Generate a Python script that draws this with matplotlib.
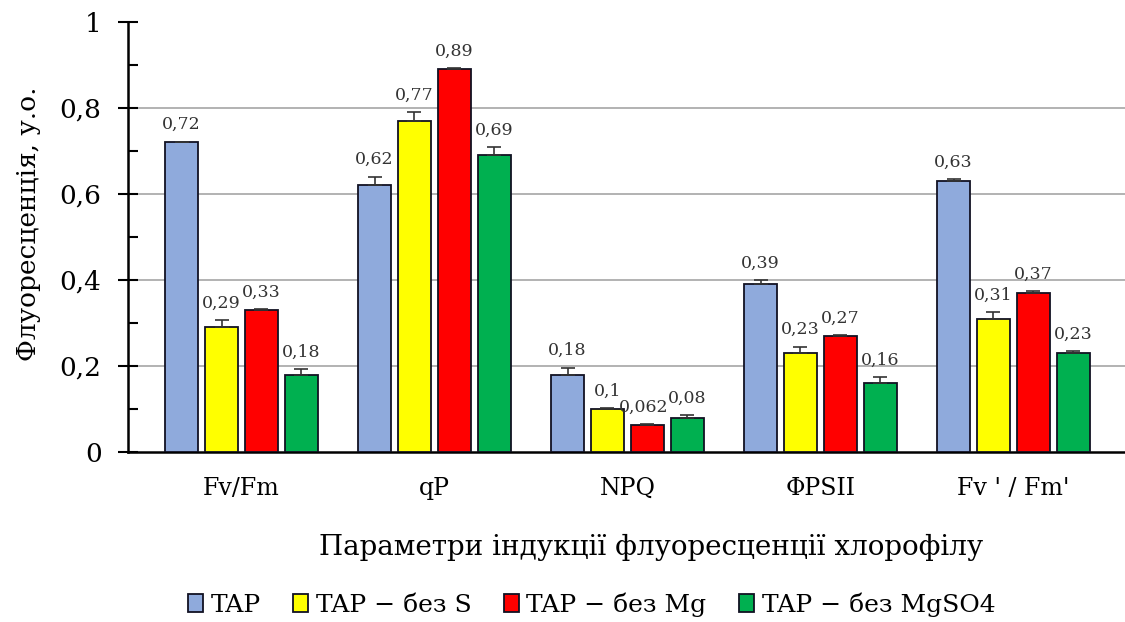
import matplotlib
matplotlib.use("Agg")
import matplotlib.pyplot as plt
import numpy as np
from matplotlib.ticker import MultipleLocator, FuncFormatter

categories = ["Fv/Fm", "qP", "NPQ", "ΦPSII", "Fv ' / Fm'"]
series_names = ["TAP", "TAP − без S", "TAP − без Mg", "TAP − без MgSO4"]
tap = [0.72, 0.62, 0.18, 0.39, 0.63]
no_s = [0.29, 0.77, 0.10, 0.23, 0.31]
no_mg = [0.33, 0.89, 0.062, 0.27, 0.37]
no_mgso4 = [0.18, 0.69, 0.08, 0.16, 0.23]
err_tap = [0.002, 0.02, 0.016, 0.01, 0.005]
err_no_s = [0.017, 0.02, 0.002, 0.015, 0.015]
err_no_mg = [0.002, 0.003, 0.002, 0.002, 0.004]
err_no_mgso4 = [0.012, 0.019, 0.005, 0.014, 0.004]
labels_tap = ["0,72", "0,62", "0,18", "0,39", "0,63"]
labels_no_s = ["0,29", "0,77", "0,1", "0,23", "0,31"]
labels_no_mg = ["0,33", "0,89", "0,062", "0,27", "0,37"]
labels_no_mgso4 = ["0,18", "0,69", "0,08", "0,16", "0,23"]

colors = ["#8FAADC", "#FFFF00", "#FF0000", "#00B050"]

plt.rcParams['font.family'] = ['DejaVu Serif', 'Liberation Serif']

fig = plt.figure(figsize=(11.25, 6.22), dpi=100)
ax = fig.add_axes([128/1125, (622-452)/622, 1 - 128/1125, 430/622])

x = np.arange(len(categories))
step = 0.207
width = 0.171
series = [tap, no_s, no_mg, no_mgso4]
errs = [err_tap, err_no_s, err_no_mg, err_no_mgso4]
labs = [labels_tap, labels_no_s, labels_no_mg, labels_no_mgso4]
for i, (vals, er, lb, c, nm) in enumerate(zip(series, errs, labs, colors, series_names)):
    pos = x + (i - 1.5) * step
    ax.bar(pos, vals, width, color=c, edgecolor="#111122", linewidth=1.3, label=nm, zorder=3)
    ax.errorbar(pos, vals, yerr=[np.zeros(len(vals)), er], fmt="none", ecolor="#333333",
                elinewidth=1.2, capsize=5, capthick=1.2, zorder=4)
    for p, v, e, t in zip(pos, vals, er, lb):
        dx = 0
        if t == "0,062":
            dx = -0.02
        ax.text(p + dx, v + e + 0.02, t, ha="center", va="bottom", fontsize=12.5, color="#333333", zorder=5)

ax.set_ylim(0, 1)
ax.set_xlim(-0.588, 4.578)
ax.yaxis.set_major_locator(MultipleLocator(0.2))
ax.yaxis.set_minor_locator(MultipleLocator(0.1))
ax.yaxis.set_major_formatter(FuncFormatter(lambda v, p: ("%g" % round(v, 1)).replace(".", ",")))
ax.tick_params(axis="y", which="major", direction="inout", length=14, width=1.5, labelsize=19, pad=12)
ax.tick_params(axis="y", which="minor", direction="in", length=7, width=1.5)
ax.set_xticks(x)
ax.set_xticklabels(categories)
ax.tick_params(axis="x", length=0, labelsize=17, pad=18)
for v in [0.2, 0.4, 0.6, 0.8]:
    ax.axhline(v, color="#A6A6A6", linewidth=1.2, zorder=1)
ax.spines["top"].set_visible(False)
ax.spines["right"].set_visible(False)
ax.spines["left"].set_linewidth(1.8)
ax.spines["bottom"].set_linewidth(1.8)
ax.set_ylabel("Флуоресценція, у.о.", fontsize=19)
ax.yaxis.set_label_coords(-0.087, 0.53)
ax.set_xlabel("Параметри індукції флуоресценції хлорофілу", fontsize=20)
ax.xaxis.set_label_coords(0.525, -0.19)

leg = ax.legend(loc="center", bbox_to_anchor=(0.465, -0.355), ncol=4, frameon=False,
                fontsize=18, handlelength=0.6, handleheight=0.75, handletextpad=0.3,
                columnspacing=1.3)

fig.savefig("out.png", dpi=100)
